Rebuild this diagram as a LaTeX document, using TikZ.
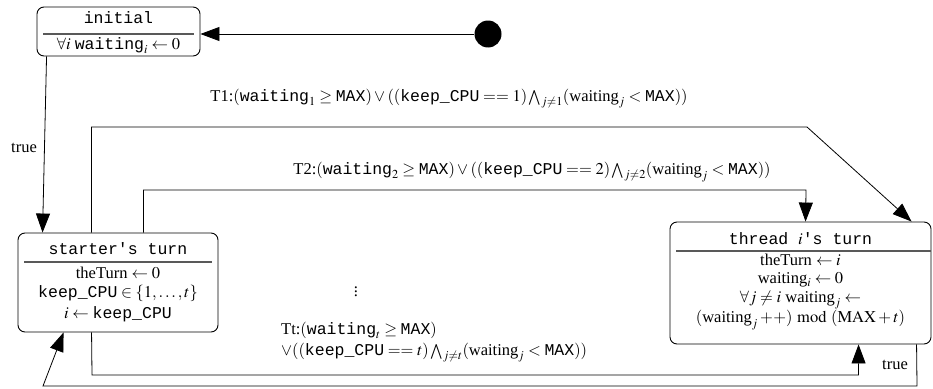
\documentclass[tikz,border=0pt]{standalone}
\usepackage{mathptmx}
\usepackage{fontspec}
\setmainfont{Liberation Serif}
\setmonofont{Liberation Mono}
\usetikzlibrary{arrows.meta}
\begin{document}
\begin{tikzpicture}[x=1pt,y=-1pt,
  font=\fontsize{16.5}{20}\selectfont,
  statebox/.style={draw, rounded corners=7pt, line width=0.9pt, inner sep=0pt},
  hdr/.style={draw=black!65, line width=1.2pt},
  edge/.style={-{Triangle[length=19pt,width=14pt]}, line width=0.8pt},
  txt/.style={inner sep=0pt, anchor=center}]
\useasboundingbox (0,0) rectangle (933,388);

% initial state
\node[statebox, minimum width=163pt, minimum height=49pt] (init) at (118.5,31.5) {};
\node[txt] (inithead) at (118.5,18) {\ttfamily initial};
\draw[hdr] (43,34) -- (194,34);
\node[txt] (initbody) at (118.5,46) {$\forall i\ \texttt{waiting}_i\leftarrow 0$};

% start dot
\node[circle, fill, inner sep=0pt, minimum size=27pt] (start) at (488,34) {};
\draw[edge] (start.west) -- (start.west -| init.east);

% starter state
\node[statebox, minimum width=200pt, minimum height=99pt] (starter) at (118,282.5) {};
\node[txt] (sthead) at (118,249) {\ttfamily starter's turn};
\draw[hdr] (24,262) -- (212,262);
\node[txt] (st1) at (118,273) {theTurn $\leftarrow 0$};
\node[txt] (st2) at (118,293) {$\texttt{keep\_CPU}\in\{1,\ldots,t\}$};
\node[txt] (st3) at (118,314) {$i\leftarrow\texttt{keep\_CPU}$};

% thread state
\node[statebox, minimum width=261pt, minimum height=122pt] (thread) at (800.5,283) {};
\node[txt] (thhead) at (800.5,239) {\ttfamily thread $i$'s turn};
\draw[hdr] (676,251) -- (931,251);
\node[txt] (th1) at (800.5,260) {theTurn $\leftarrow i$};
\node[txt] (th2) at (800.5,280) {waiting$_i\leftarrow 0$};
\node[txt] (th3) at (800.5,300) {$\forall j\neq i\ \textrm{waiting}_j\leftarrow$};
\node[txt] (th4) at (800.5,320) {$(\textrm{waiting}_j+\!+)\bmod(\mathrm{MAX}+t)$};

% initial -> starter
\draw[edge] ([xshift=10pt]init.south west) -- ([xshift=25pt]starter.north west);
\node[txt] (ltrue1) at (24,148) {true};

% T1
\coordinate (t1a) at (807,127);
\draw[edge] ([xshift=74pt]starter.north west) |- (t1a) -- ([xshift=242pt]thread.north west);
\node[txt] (lT1) at (449,99) {T1:$(\texttt{waiting}_1\geq\texttt{MAX})\vee((\texttt{keep\_CPU}==1)\bigwedge_{j\neq1}(\textrm{waiting}_j<\texttt{MAX}))$};

% T2
\coordinate (t2a) at (806,190);
\draw[edge] ([xshift=126pt]starter.north west) |- (t2a) -- ([xshift=136pt]thread.north west);
\node[txt] (lT2) at (532,172) {T2:$(\texttt{waiting}_2\geq\texttt{MAX})\vee((\texttt{keep\_CPU}==2)\bigwedge_{j\neq2}(\textrm{waiting}_j<\texttt{MAX}))$};

% dots
\node[txt] (dots) at (356,289) {$\vdots$};

% Tt
\coordinate (tta) at (92,375);
\draw[edge] ([xshift=74pt]starter.south west) -- (tta) -| ([xshift=189pt]thread.south west);
\node[inner sep=0pt, anchor=north west, align=left] (lTt) at (281,322) {Tt:$(\texttt{waiting}_t\geq\texttt{MAX})$\\[1pt]
$\vee((\texttt{keep\_CPU}==t)\bigwedge_{j\neq t}(\textrm{waiting}_j<\texttt{MAX}))$};

% true loop
\coordinate (tra) at (917,386);
\coordinate (trb) at (43,386);
\draw[edge] ([xshift=247pt]thread.south west) -- (tra) -- (trb) -- ([xshift=46pt]starter.south west);
\node[txt] (ltrue2) at (895,365) {true};
\end{tikzpicture}
\end{document}
